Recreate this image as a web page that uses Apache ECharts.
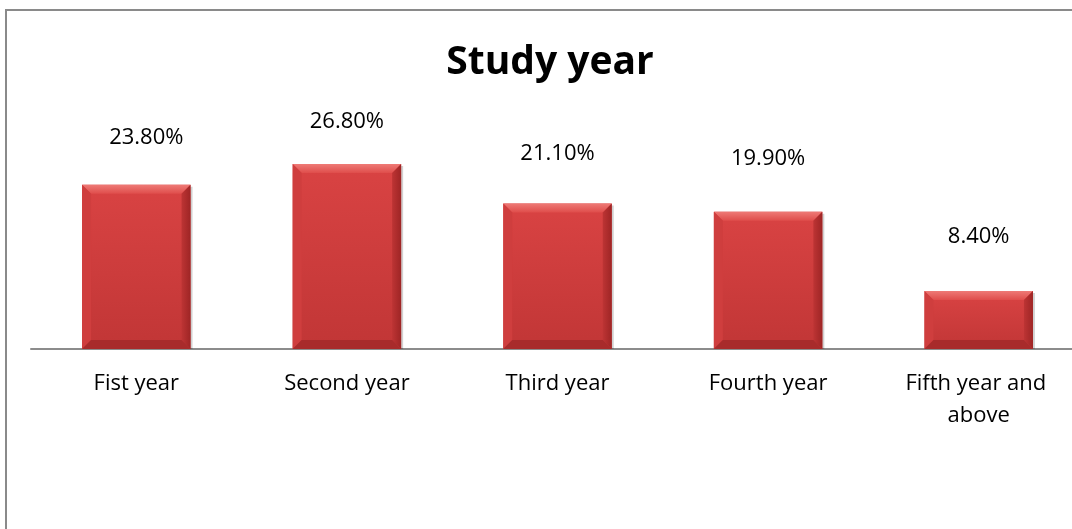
<!DOCTYPE html>
<html>
<head>
<meta charset="utf-8">
<title>Study year</title>
<script src="https://cdn.jsdelivr.net/npm/echarts@6/dist/echarts.min.js"></script>
<style>
  html, body { margin: 0; padding: 0; background: #ffffff; }
  #chart { width: 1072px; height: 529px; }
</style>
</head>
<body>
<div id="chart"></div>
<script>
// Share of respondents by year of study (percent)
const categories = ['Fist year', 'Second year', 'Third year', 'Fourth year', 'Fifth year and above'];
const shares = [23.8, 26.8, 21.1, 19.9, 8.4];

// Extra space between each bar top and its value label (px)
const labelGap = [36, 31, 39, 42, 43];

const FONT = '"Open Sans", "Noto Sans", sans-serif';

// Bevelled bar: a flat face framed by lighter top/left and darker right/bottom slopes
function renderBar(params, api) {
  const idx = api.value(0);
  const val = api.value(1);
  const top = api.coord([idx, val]);
  const base = api.coord([idx, 0]);
  const w = api.size([1, 0])[0] * 0.515;
  const x0 = top[0] - w / 2, x1 = top[0] + w / 2;
  const y0 = top[1], y1 = base[1];
  const b = Math.min(9, (y1 - y0) / 3);
  const poly = (pts, fill) => ({ type: 'polygon', shape: { points: pts }, style: { fill: fill } });
  return {
    type: 'group',
    children: [
      { type: 'rect', shape: { x: x0 + 2, y: y0 + 2, width: w, height: y1 - y0 - 2 },
        style: { fill: 'rgba(0,0,0,0.18)' } },
      { type: 'rect', shape: { x: x0, y: y0, width: w, height: y1 - y0 },
        style: { fill: new echarts.graphic.LinearGradient(0, 0, 0, 1, [
          { offset: 0, color: '#d94343' }, { offset: 1, color: '#c13636' }]) } },
      poly([[x0, y0], [x1, y0], [x1 - b, y0 + b], [x0 + b, y0 + b]],
        new echarts.graphic.LinearGradient(0, 0, 0, 1, [
          { offset: 0, color: '#ee7a76' }, { offset: 1, color: '#df4d4b' }])),
      poly([[x0, y0], [x0 + b, y0 + b], [x0 + b, y1 - b], [x0, y1]], '#cf3e3e'),
      poly([[x1, y0], [x1, y1], [x1 - b, y1 - b], [x1 - b, y0 + b]],
        new echarts.graphic.LinearGradient(0, 0, 1, 0, [
          { offset: 0, color: '#bd3434' }, { offset: 1, color: '#9e2525' }])),
      poly([[x0, y1], [x0 + b, y1 - b], [x1 - b, y1 - b], [x1, y1]], '#a82b2b'),
      { type: 'text', x: top[0] + (params.dataIndex === 0 ? 10 : 0), y: y0 - labelGap[params.dataIndex],
        style: { text: val.toFixed(2) + '%', fill: '#000', font: '22px ' + FONT,
          textAlign: 'center', textVerticalAlign: 'bottom' } }
    ]
  };
}

const chart = echarts.init(document.getElementById('chart'), null, { renderer: 'canvas' });
chart.setOption({
  animation: false,
  backgroundColor: '#ffffff',
  title: {
    text: 'Study year',
    left: 545, top: 38, textAlign: 'center',
    textStyle: { fontFamily: FONT, fontWeight: 'bold', fontSize: 39, color: '#000' }
  },
  graphic: [{
    type: 'rect', shape: { x: 6, y: 10, width: 1100, height: 560 },
    style: { fill: 'none', stroke: '#8a8a8a', lineWidth: 2 }, silent: true, z: -1
  }],
  grid: { left: 31, width: 1053, top: 142, bottom: 180, containLabel: false, outerBoundsMode: 'none' },
  xAxis: {
    type: 'category',
    data: categories,
    axisLine: { lineStyle: { color: '#8c8c8c', width: 2 } },
    axisTick: { show: false },
    axisLabel: {
      color: '#000', fontFamily: FONT, fontSize: 22, margin: 19, lineHeight: 32,
      width: 175, overflow: 'break', interval: 0
    }
  },
  yAxis: { type: 'value', min: 0, max: 30, show: false, splitLine: { show: false } },
  series: [{
    type: 'custom',
    renderItem: renderBar,
    encode: { x: 0, y: 1 },
    data: shares.map((v, i) => [i, v]),
    z: 3
  }]
});
</script>
</body>
</html>
